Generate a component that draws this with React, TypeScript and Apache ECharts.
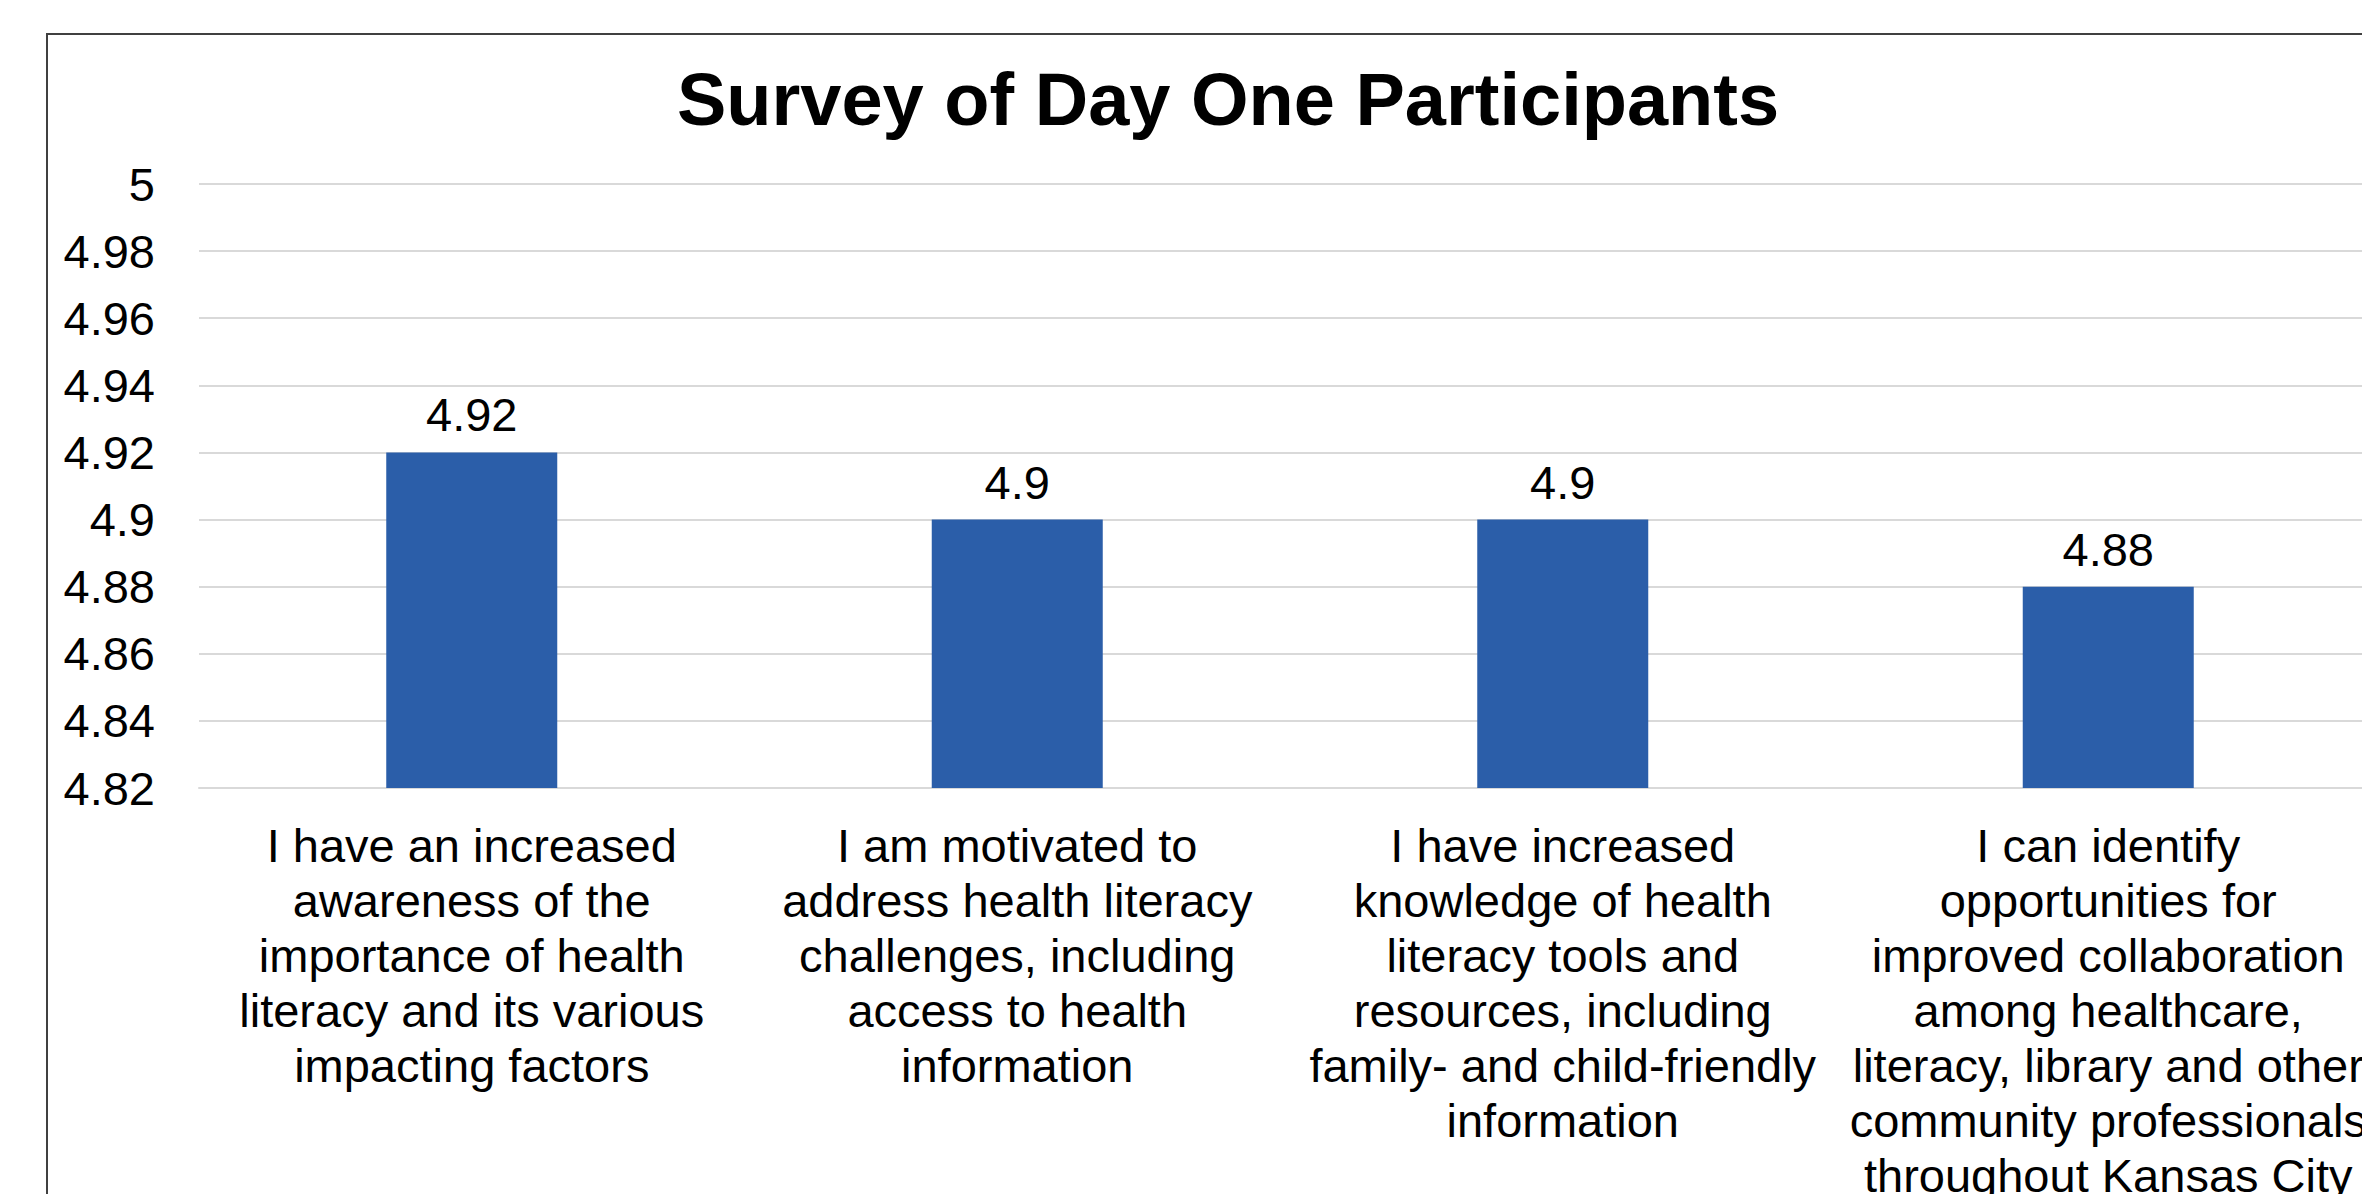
import React, { useEffect, useRef } from "react";
import * as echarts from "echarts";

const titleText = "Survey of Day One Participants";
const categories = [
  "I have an increased\nawareness of the\nimportance of health\nliteracy and its various\nimpacting factors",
  "I am motivated to\naddress health literacy\nchallenges, including\naccess to health\ninformation",
  "I have increased\nknowledge of health\nliteracy tools and\nresources, including\nfamily- and child-friendly\ninformation",
  "I can identify\nopportunities for\nimproved collaboration\namong healthcare,\nliteracy, library and other\ncommunity professionals\nthroughout Kansas City",
];
const values = [4.92, 4.9, 4.9, 4.88];
const yMin = 4.82;
const yMax = 5;
const yInterval = 0.02;

const FONT = '"Liberation Sans", Arial, sans-serif';

export default function App() {
  const ref = useRef<HTMLDivElement>(null);
  useEffect(() => {
    if (!ref.current) return;
    const chart = echarts.init(ref.current, undefined, { renderer: "svg" });
    chart.setOption({
      animation: false,
      backgroundColor: "#ffffff",
      title: {
        text: titleText,
        left: 1228,
        top: 62,
        textAlign: "center",
        padding: 0,
        textStyle: {
          fontFamily: FONT,
          fontSize: 74,
          fontWeight: "bold",
          color: "#000000",
          lineHeight: 74,
        },
      },
      graphic: [
        {
          type: "rect",
          shape: { x: 47, y: 34, width: 3000, height: 3000 },
          style: { fill: "none", stroke: "#404040", lineWidth: 2 },
          silent: true,
          z: 100,
        },
      ],
      grid: {
        left: 199,
        top: 184,
        height: 604,
        width: 2182,
        containLabel: false,
        outerBoundsMode: "none",
      },
      xAxis: {
        type: "category",
        data: categories,
        axisLine: { show: true, lineStyle: { color: "#d9d9d9", width: 2 } },
        axisTick: { show: false },
        splitLine: { show: false },
        axisLabel: {
          interval: 0,
          margin: 30,
          color: "#000000",
          fontFamily: FONT,
          fontSize: 47,
          lineHeight: 55,
          align: "center",
        },
      },
      yAxis: {
        type: "value",
        min: yMin,
        max: yMax,
        interval: yInterval,
        axisLine: { show: false },
        axisTick: { show: false },
        splitLine: { show: true, lineStyle: { color: "#d9d9d9", width: 2 } },
        axisLabel: {
          margin: 44,
          color: "#000000",
          fontFamily: FONT,
          fontSize: 47,
          formatter: (v: number) => String(+v.toFixed(2)),
        },
      },
      series: [
        {
          type: "bar",
          data: values,
          barWidth: 171,
          itemStyle: { color: "#2B5EA9" },
          label: {
            show: true,
            position: "top",
            distance: 14,
            color: "#000000",
            fontFamily: FONT,
            fontSize: 47,
            lineHeight: 47,
            formatter: (p: any) => String(p.value),
          },
        },
      ],
    });
    return () => chart.dispose();
  }, []);
  return (
    <div
      ref={ref}
      style={{ position: "fixed", left: 0, top: 0, width: 2362, height: 1194 }}
    />
  );
}
